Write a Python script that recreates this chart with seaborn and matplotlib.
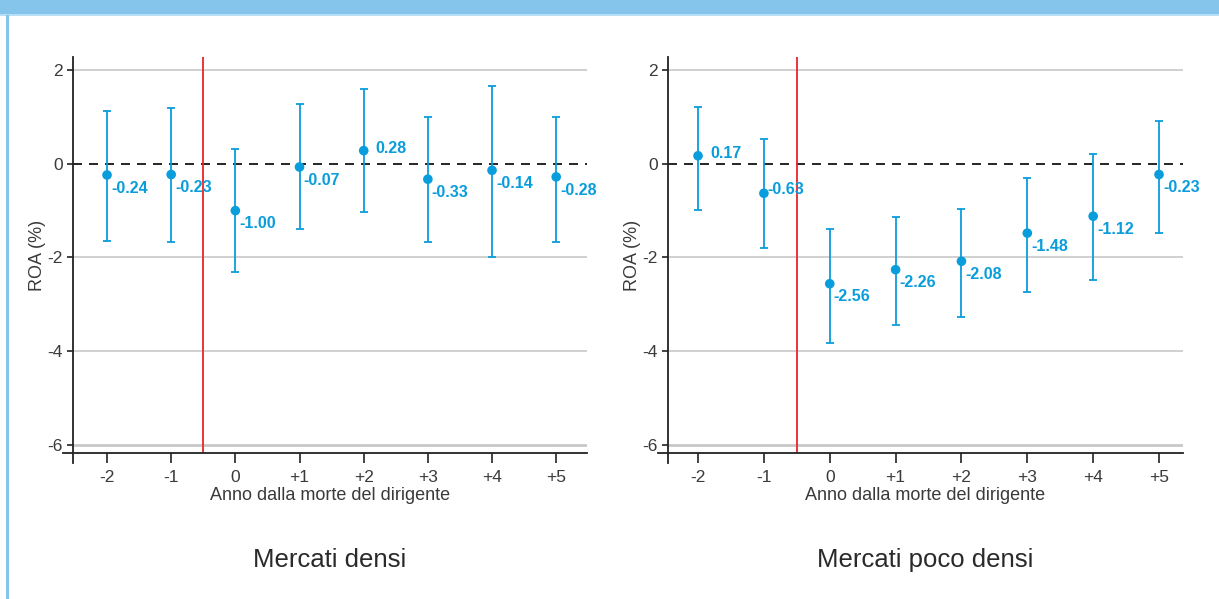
import matplotlib
matplotlib.use("Agg")
import matplotlib.pyplot as plt
import seaborn as sns
import numpy as np
import pandas as pd
from matplotlib.patches import Rectangle

# ---------------- data ----------------
event_time = [-2, -1, 0, 1, 2, 3, 4, 5]
tick_labels = ["-2", "-1", "0", "+1", "+2", "+3", "+4", "+5"]
y_ticks = [2, 0, -2, -4, -6]

dense_coef = [-0.24, -0.23, -1.00, -0.07, 0.28, -0.33, -0.14, -0.28]
dense_lo = [-1.64, -1.68, -2.32, -1.39, -1.04, -1.68, -2.00, -1.68]
dense_hi = [1.13, 1.19, 0.32, 1.28, 1.60, 0.99, 1.65, 0.99]
dense_labpos = ["br", "br", "br", "br", "r", "br", "br", "br"]

sparse_coef = [0.17, -0.63, -2.56, -2.26, -2.08, -1.48, -1.12, -0.23]
sparse_lo = [-0.98, -1.79, -3.82, -3.45, -3.28, -2.73, -2.47, -1.47]
sparse_hi = [1.21, 0.52, -1.39, -1.14, -0.97, -0.30, 0.20, 0.91]
sparse_labpos = ["r", "r", "br", "br", "br", "br", "br", "br"]

panel_titles = ["Mercati densi", "Mercati poco densi"]
xlabel = "Anno dalla morte del dirigente"
ylabel = "ROA (%)"

# ---------------- style ----------------
sns.set_theme(style="white")
plt.rcParams["font.family"] = ["Liberation Sans", "DejaVu Sans"]
plt.rcParams["axes.unicode_minus"] = False

BLUE = "#0a9ddc"
RED = "#e8242b"
GRID = "#c8c8c8"
TXT = "#3a3a3a"
FRAME = "#85c5eb"

W, H = 1219, 599
fig = plt.figure(figsize=(W / 100, H / 100), dpi=100)

# decorative frame: top band and left border
fig.patches.append(Rectangle((0, 1 - 14 / H), 1, 14 / H, transform=fig.transFigure,
                             facecolor=FRAME, edgecolor="none", zorder=0))
fig.patches.append(Rectangle((0, 1 - 15.5 / H), 1, 1.5 / H, transform=fig.transFigure,
                             facecolor="#b8def5", edgecolor="none", zorder=0))
fig.patches.append(Rectangle((6 / W, 0), 2.5 / W, 1 - 15 / H, transform=fig.transFigure,
                             facecolor=FRAME, edgecolor="none", zorder=0))

panels = [
    dict(rect=[73, 57, 587, 453], xlim=(-2.53, 5.48), xspine_left=-2.69,
         coef=dense_coef, lo=dense_lo, hi=dense_hi, labpos=dense_labpos),
    dict(rect=[668, 57, 1183, 453], xlim=(-2.456, 5.364), xspine_left=-2.61,
         coef=sparse_coef, lo=sparse_lo, hi=sparse_hi, labpos=sparse_labpos),
]
ylim = (-6.171, 2.277)
yspine_bottom = -6.384

for p, title in zip(panels, panel_titles):
    x0, y0, x1, y1 = p["rect"]
    ax = fig.add_axes([x0 / W, 1 - y1 / H, (x1 - x0) / W, (y1 - y0) / H])
    ax.set_facecolor("none")
    ax.set_xlim(*p["xlim"])
    ax.set_ylim(*ylim)

    # gridlines (0 is drawn as a dashed reference line)
    for t in y_ticks:
        if t == 0:
            ax.axhline(0, color="black", lw=1.2, ls=(0, (5.4, 4.2)), zorder=2)
        else:
            ax.axhline(t, color=GRID, lw=2.0 if t == min(y_ticks) else 1.2, zorder=1)

    ax.axvline(-0.5, color=RED, lw=1.3, zorder=2)

    coef = np.array(p["coef"])
    lo = np.array(p["lo"])
    hi = np.array(p["hi"])
    ax.errorbar(event_time, coef, yerr=[coef - lo, hi - coef], fmt="none",
                ecolor=BLUE, elinewidth=1.3, capsize=2.9, capthick=1.3, zorder=3)
    df = pd.DataFrame({"t": event_time, "coef": coef})
    sns.scatterplot(data=df, x="t", y="coef", ax=ax, s=48, color=BLUE,
                    edgecolor="none", linewidth=0, zorder=4, legend=False)

    for xt, v, pos in zip(event_time, coef, p["labpos"]):
        off = (8.6, 1.5) if pos == "r" else (2.8, -9.5)
        if pos == "r" and v < 0:
            off = (2.5, 3.0)
        ax.annotate(f"{v:.2f}", (xt, v), xytext=off, textcoords="offset points",
                    ha="left", va="center", fontsize=11.5, fontweight="bold",
                    color=BLUE, zorder=5)

    # spines
    for s in ["top", "right"]:
        ax.spines[s].set_visible(False)
    for s in ["left", "bottom"]:
        ax.spines[s].set_color("#222222")
        ax.spines[s].set_linewidth(1.3)
    ax.spines["left"].set_bounds(yspine_bottom, ylim[1])
    ax.spines["bottom"].set_bounds(p["xspine_left"], p["xlim"][1])

    ax.set_xticks(event_time)
    ax.set_xticklabels(tick_labels)
    ax.set_yticks(y_ticks)
    ax.set_yticklabels([str(t) for t in y_ticks])
    ax.tick_params(axis="x", direction="out", length=7, width=1.2, pad=5,
                   labelsize=12.5, color="#222222", labelcolor=TXT, bottom=True)
    ax.tick_params(axis="y", direction="out", length=4, width=1.2, pad=3.5,
                   labelsize=12.5, color="#222222", labelcolor=TXT, left=True)
    ax.grid(False)

    ax.set_xlabel(xlabel, fontsize=13, color=TXT, labelpad=1.5)
    ax.set_ylabel(ylabel, fontsize=13, color=TXT)
    ax.yaxis.set_label_coords(-27 / (x1 - x0), 0.5)

    fig.text(((x0 + x1) / 2) / W, 1 - 560 / H, title, ha="center", va="center",
             fontsize=18.5, color="#2a2a2a")

fig.savefig("out.png", dpi=100)
